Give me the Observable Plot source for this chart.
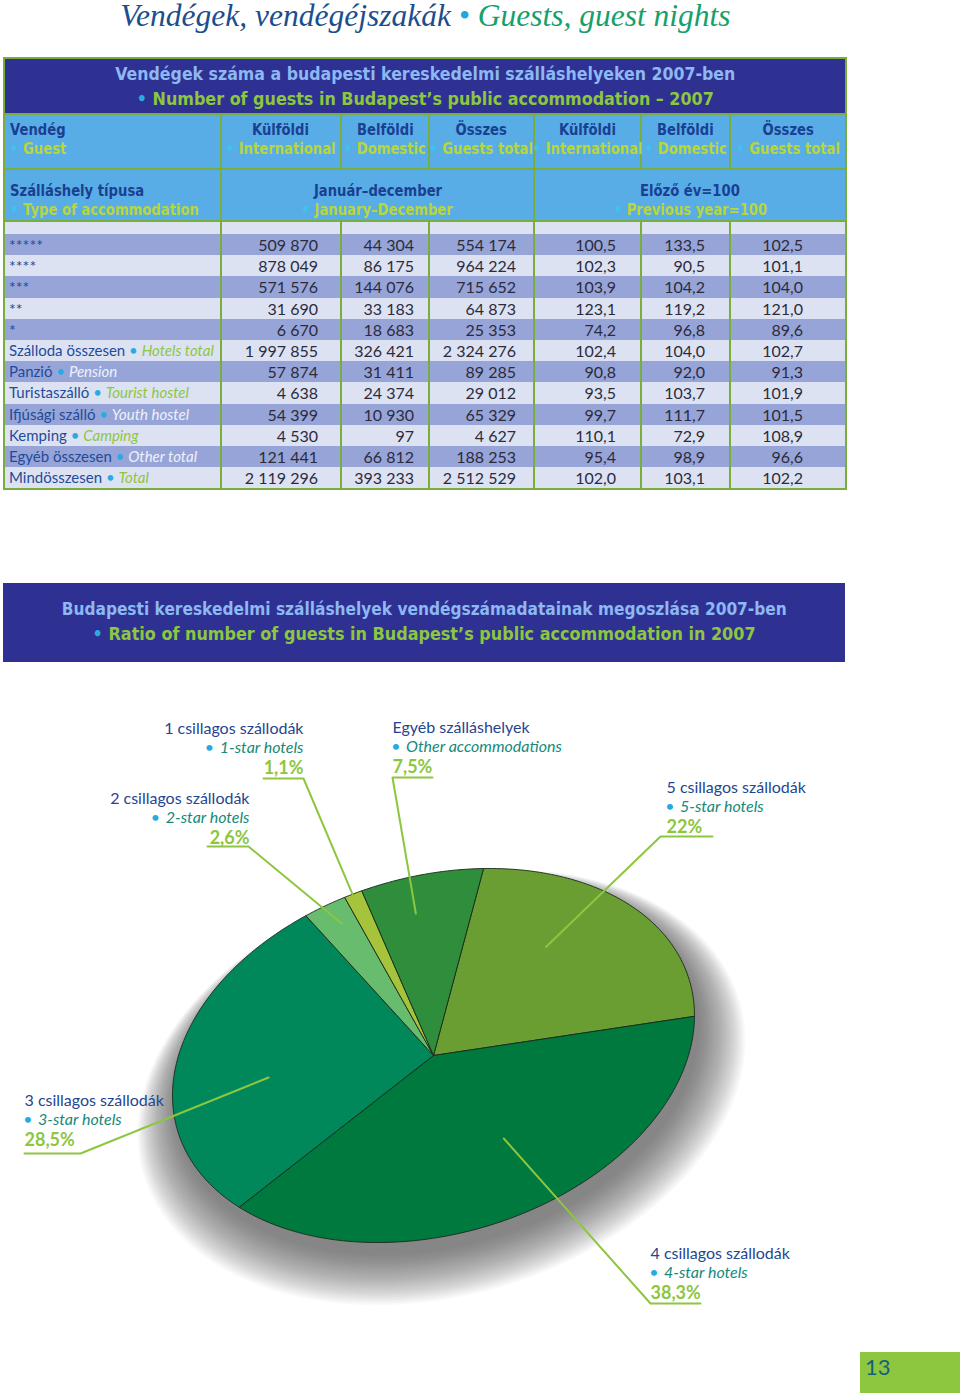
<!DOCTYPE html>
<html><head><meta charset="utf-8">
<script src="https://cdn.jsdelivr.net/npm/d3@7"></script>
<script src="https://cdn.jsdelivr.net/npm/@observablehq/plot@0.6"></script>
<style>
html,body{margin:0;padding:0;background:#fff;}
body{width:960px;height:1393px;position:relative;overflow:hidden;font-family:Lato,"Noto Sans",sans-serif;}
.abs{position:absolute;}
#pageTitle{left:0;top:3px;width:851px;text-align:center;font-family:"Liberation Serif",serif;font-style:italic;font-size:31.5px;line-height:26px;white-space:nowrap;}
#pageTitle .hu{color:#1b4e8e;} #pageTitle .b{color:#22a6dc;} #pageTitle .en{color:#17a06c;}
.cond{font-family:"DejaVu Sans",sans-serif;font-weight:bold;}
.ln{display:flex;justify-content:center;white-space:nowrap;}
.ln.left{justify-content:flex-start;}
.sx{display:inline-block;white-space:nowrap;transform-origin:center center;}
.ln.left .sx{transform-origin:left center;}
table#tbl{position:absolute;left:3px;top:57px;width:842px;border-collapse:collapse;table-layout:fixed;border:2px solid #79ad3c;}
#tbl td{padding:0;white-space:nowrap;}
#tbl tr.title td{background:#2e3192;height:54px;font-size:18px;line-height:25px;vertical-align:middle;}
.t1{color:#8db8f2;} .t2{color:#8dc63f;} .tb{color:#29abe2;}
#tbl tr.h td{background:#58ade6;border-left:2px solid #79ad3c;border-right:2px solid #79ad3c;border-top:2px solid #79ad3c;font-size:15px;line-height:19px;vertical-align:middle;}
#tbl tr.h td.first{padding-left:5px;}
#tbl tr.h1 td{height:55px;padding-bottom:4px;box-sizing:border-box;}
#tbl tr.h2 td{height:52px;padding-top:11px;box-sizing:border-box;}
.hhu{color:#1b3f91;} .hen{color:#b8d63a;} .hb{color:#3cc3f0;}
#tbl tr.blank td{height:12px;background:#dde2f3;border-top:2px solid #79ad3c;border-left:2px solid #79ad3c;border-right:2px solid #79ad3c;}
#tbl tr.d td{height:21.2px;font-size:16px;line-height:21px;text-align:right;color:#2b2b3c;border-left:2px solid #79ad3c;border-right:2px solid #79ad3c;overflow:hidden;}
#tbl tr.d td.first{text-align:left;padding-left:4px;color:#1f4b98;font-size:15px;}
#tbl tr.d td.first.stars{font-size:16px;}
#tbl tr.d.dark td{background:#97a4d8;} #tbl tr.d.light td{background:#dde2f3;}
tr.d.light .den{color:#8dc63f;font-style:italic;} tr.d.dark .den{color:#eef2fb;font-style:italic;}
.dbul{color:#29abe2;}
#sec2{left:3px;top:583px;width:842px;height:79px;background:#2e3192;font-size:18px;line-height:25px;}
#pie{left:0;top:690px;}
#pageNum{left:860px;top:1352px;width:100px;height:41px;background:#8dc63f;color:#17607c;font-size:22px;line-height:30px;padding-left:5px;box-sizing:border-box;font-family:Lato,sans-serif;}
</style></head>
<body>
<div id="pageTitle" class="abs"><span class="hu">Vendégek, vendégéjszakák</span> <span class="b">•</span> <span class="en">Guests, guest nights</span></div>
<table id="tbl"></table>
<div id="sec2" class="abs cond"><div style="padding-top:13px">
<div class="ln"><span class="sx fit" data-w="725"><span class="t1">Budapesti kereskedelmi szálláshelyek vendégszámadatainak megoszlása 2007-ben</span></span></div>
<div class="ln"><span class="sx fit" data-w="663"><span class="tb">•</span> <span class="t2">Ratio of number of guests in Budapest’s public accommodation in 2007</span></span></div>
</div></div>
<div id="pie" class="abs"></div>
<div id="pageNum" class="abs">13</div>
<script>
// ---------------- Table data ----------------
const tableTitleHu = "Vendégek száma a budapesti kereskedelmi szálláshelyeken 2007-ben";
const tableTitleEn = "Number of guests in Budapest’s public accommodation – 2007";
const columnHeadsHu = ["Vendég","Külföldi","Belföldi","Összes","Külföldi","Belföldi","Összes"];
const columnHeadsEn = ["Guest","International","Domestic","Guests total","International","Domestic","Guests total"];
const groupHeadsHu = ["Szálláshely típusa","Január–december","Előző év=100"];
const groupHeadsEn = ["Type of accommodation","January–December","Previous year=100"];
const rowLabelsHu = ["*****","****","***","**","*","Szálloda összesen","Panzió","Turistaszálló","Ifjúsági szálló","Kemping","Egyéb összesen","Mindösszesen"];
const rowLabelsEn = [null,null,null,null,null,"Hotels total","Pension","Tourist hostel","Youth hostel","Camping","Other total","Total"];
const international = [509870,878049,571576,31690,6670,1997855,57874,4638,54399,4530,121441,2119296];
const domestic = [44304,86175,144076,33183,18683,326421,31411,24374,10930,97,66812,393233];
const guestsTotal = [554174,964224,715652,64873,25353,2324276,89285,29012,65329,4627,188253,2512529];
const intlIndex = [100.5,102.3,103.9,123.1,74.2,102.4,90.8,93.5,99.7,110.1,95.4,102.0];
const domIndex = [133.5,90.5,104.2,119.2,96.8,104.0,92.0,103.7,111.7,72.9,98.9,103.1];
const totalIndex = [102.5,101.1,104.0,121.0,89.6,102.7,91.3,101.9,101.5,108.9,96.6,102.2];

// ---------------- Pie data ----------------
const pieCategoriesHu = ["5 csillagos szállodák","4 csillagos szállodák","3 csillagos szállodák","2 csillagos szállodák","1 csillagos szállodák","Egyéb szálláshelyek"];
const pieCategoriesEn = ["5-star hotels","4-star hotels","3-star hotels","2-star hotels","1-star hotels","Other accommodations"];
const pieShares = [22, 38.3, 28.5, 2.6, 1.1, 7.5];
const pieColors = ["#6b9e32","#00793e","#00885a","#68bc6e","#a5c33b","#2f8e3b"];

// ---------------- Layout (positions/styles) ----------------
const colWidths = [217,120,88,105,107,89,116];
const padRight = [0,22,14,17,24,24,42];
const labelLayout = [
  {anchor:"start", x:666, y:787, ux:[660,712], uy:836, jx:660, k:0.375, f:0.66},
  {anchor:"start", x:650, y:1253, ux:[650,700], uy:1303, jx:650, k:0.45, f:0.58},
  {anchor:"start", x:24, y:1100, ux:[24,80], uy:1153, jx:80, k:0.424, f:0.632},
  {anchor:"end", x:249, y:798, ux:[207,248], uy:846, jx:248, k:0.59, f:0.874},
  {anchor:"end", x:303, y:728, ux:[263,303], uy:778, jx:303, k:0.46, f:1.0},
  {anchor:"start", x:392, y:727, ux:[392,432], uy:777, jx:392, k:0.41, f:0.795}
];

// ---------------- Build table ----------------
const loc = d3.formatLocale({decimal:",", thousands:" ", grouping:[3], currency:["",""]});
const fInt = loc.format(",d"), fIdx = loc.format(".1f");
const tbl = document.getElementById("tbl");
const ln = (inner, left, fit) => `<div class="ln${left?' left':''}"><span class="sx${fit?' fit':' hsx'}"${fit?` data-w="${fit}"`:''}>${inner}</span></div>`;
let html = "<colgroup>" + colWidths.map(w=>`<col style="width:${w}px">`).join("") + "</colgroup>";
html += `<tr class="title cond"><td colspan="7">${ln(`<span class="t1">${tableTitleHu}</span>`,false,620)}${ln(`<span class="tb">•</span> <span class="t2">${tableTitleEn}</span>`,false,577)}</td></tr>`;
html += `<tr class="h h1 cond">` + columnHeadsHu.map((h,i)=>`<td class="${i===0?'first':''}">${ln(`<span class="hhu">${h}</span>`,i===0)}${ln(`<span class="hb">•</span> <span class="hen">${columnHeadsEn[i]}</span>`,i===0)}</td>`).join("") + "</tr>";
const spans=[1,3,3];
html += `<tr class="h h2 cond">` + groupHeadsHu.map((h,i)=>`<td colspan="${spans[i]}" class="${i===0?'first':''}">${ln(`<span class="hhu">${h}</span>`,i===0)}${ln(`<span class="hb">•</span> <span class="hen">${groupHeadsEn[i]}</span>`,i===0)}</td>`).join("") + "</tr>";
html += `<tr class="blank">` + colWidths.map(()=>"<td></td>").join("") + "</tr>";
rowLabelsHu.forEach((lab,r)=>{
  const cls = r%2===0 ? "dark":"light";
  const first = rowLabelsEn[r] ? `<span>${lab}</span> <span class="dbul">•</span> <span class="den">${rowLabelsEn[r]}</span>` : lab;
  const vals = [fInt(international[r]), fInt(domestic[r]), fInt(guestsTotal[r]), fIdx(intlIndex[r]), fIdx(domIndex[r]), fIdx(totalIndex[r])];
  html += `<tr class="d ${cls}"><td class="first${rowLabelsEn[r]?'':' stars'}">${first}</td>` + vals.map((v,i)=>`<td style="padding-right:${padRight[i+1]}px">${v}</td>`).join("") + "</tr>";
});
tbl.innerHTML = html;
// condense the bold header text (reference uses a condensed face)
let kSum=0, kN=0;
document.querySelectorAll(".sx.fit").forEach(el=>{
  const w = el.getBoundingClientRect().width;
  const k = (+el.dataset.w)/w; kSum+=k; kN++;
  el.style.transform = `scaleX(${k})`;
});
const kCond = kSum/kN;
document.querySelectorAll(".sx.hsx").forEach(el=>{ el.style.transform = `scaleX(${kCond})`; });

// ---------------- Pie (Plot) ----------------
const cx = 433, cy = 1055, RA = 266.7, RB = 178.8, tilt = -16.1*Math.PI/180;
const t0 = -68*Math.PI/180;
function ellPt(t, f=1, dx=0, dy=0){
  const X = RA*f*Math.cos(t), Y = RB*f*Math.sin(t);
  return {x: cx+dx+X*Math.cos(tilt)-Y*Math.sin(tilt), y: cy+dy+X*Math.sin(tilt)+Y*Math.cos(tilt)};
}
const pieData = pieShares.map((s,i)=>({i, share:s, hu:pieCategoriesHu[i], en:pieCategoriesEn[i], color:pieColors[i]}));
const arcs = d3.pie().sort(null).value(d=>d.share).startAngle(t0).endAngle(t0+2*Math.PI)(pieData);

const slicePolys = arcs.map(a=>{
  const n = Math.max(4, Math.ceil((a.endAngle-a.startAngle)/(Math.PI/180)));
  const pts=[{x:cx,y:cy}];
  for(let j=0;j<=n;j++) pts.push(ellPt(a.startAngle+(a.endAngle-a.startAngle)*j/n));
  pts.push({x:cx,y:cy});
  return {pts, color:a.data.color};
});
// soft drop shadow built from stacked translucent ellipses
const shadowLayers = d3.range(34).map(i=>({
  pts: d3.range(0,361,3).map(d=>ellPt(d*Math.PI/180, 1.0 + i*0.005, 4 + i*0.12, 12 + i*0.6)),
  i
}));

const fmtPct = v => (Number.isInteger(v) ? String(v) : v.toFixed(1).replace(".",",")) + "%";
const cnv = document.createElement("canvas").getContext("2d");
function textW(s, font){cnv.font = font; return cnv.measureText(s).width;}

const HU_FS=16, EN_FS=16, PCT_FS=18;
const marks = [];
shadowLayers.slice().reverse().forEach(l=>marks.push(Plot.line(l.pts, {x:"x", y:"y", fill:"#3c3c3c", fillOpacity:0.028, stroke:"none"})));
slicePolys.forEach(p=>marks.push(Plot.line(p.pts, {x:"x", y:"y", fill:p.color, stroke:"#1a2a1c", strokeWidth:0.9, strokeLinejoin:"round"})));

const leaders=[], huT=[], enT=[], bulT=[], pctT=[];
arcs.forEach((a,i)=>{
  const L = labelLayout[i];
  const tm = a.startAngle + (a.endAngle-a.startAngle)*L.k;
  const inner = ellPt(tm, L.f);
  const far = L.ux[0]===L.jx ? L.ux[1] : L.ux[0];
  leaders.push({key:i, x:far, y:L.uy},{key:i, x:L.jx, y:L.uy},{key:i, x:inner.x, y:inner.y});
  huT.push({x:L.x, y:L.y, t:a.data.hu, anchor:L.anchor});
  pctT.push({x:L.x, y:L.y+39.5, t:fmtPct(a.data.share), anchor:L.anchor});
  if(L.anchor==="start"){
    enT.push({x:L.x+13.5, y:L.y+19.5, t:a.data.en, anchor:"start"});
    bulT.push({x:L.x+3.5, y:L.y+19.5});
  } else {
    const w = textW(a.data.en, `italic ${EN_FS}px Lato`);
    enT.push({x:L.x, y:L.y+19.5, t:a.data.en, anchor:"end"});
    bulT.push({x:L.x-w-10, y:L.y+19.5});
  }
});
marks.push(Plot.line(leaders, {x:"x", y:"y", z:"key", stroke:"#8dc63f", strokeWidth:2}));
for (const anchor of ["start","end"]) {
  marks.push(Plot.text(huT.filter(d=>d.anchor===anchor), {x:"x", y:"y", text:"t", textAnchor:anchor, fill:"#1f4690", fontSize:HU_FS, fontFamily:"Lato"}));
  marks.push(Plot.text(enT.filter(d=>d.anchor===anchor), {x:"x", y:"y", text:"t", textAnchor:anchor, fill:"#168a7a", fontSize:EN_FS, fontStyle:"italic", fontFamily:"Lato"}));
  marks.push(Plot.text(pctT.filter(d=>d.anchor===anchor), {x:"x", y:"y", text:"t", textAnchor:anchor, fill:"#8dc63f", fontSize:PCT_FS, fontWeight:"bold", fontFamily:"Lato"}));
}
marks.push(Plot.text(bulT, {x:"x", y:"y", text:()=>"•", textAnchor:"middle", fill:"#29a9e0", fontSize:16, fontFamily:"Lato"}));

const svg = Plot.plot({
  width:960, height:660, margin:0,
  x:{domain:[0,960], range:[0,960], axis:null},
  y:{domain:[690,1350], range:[0,660], axis:null},
  style:{background:"transparent", overflow:"visible"},
  marks
});
document.getElementById("pie").appendChild(svg);
</script>
</body></html>
